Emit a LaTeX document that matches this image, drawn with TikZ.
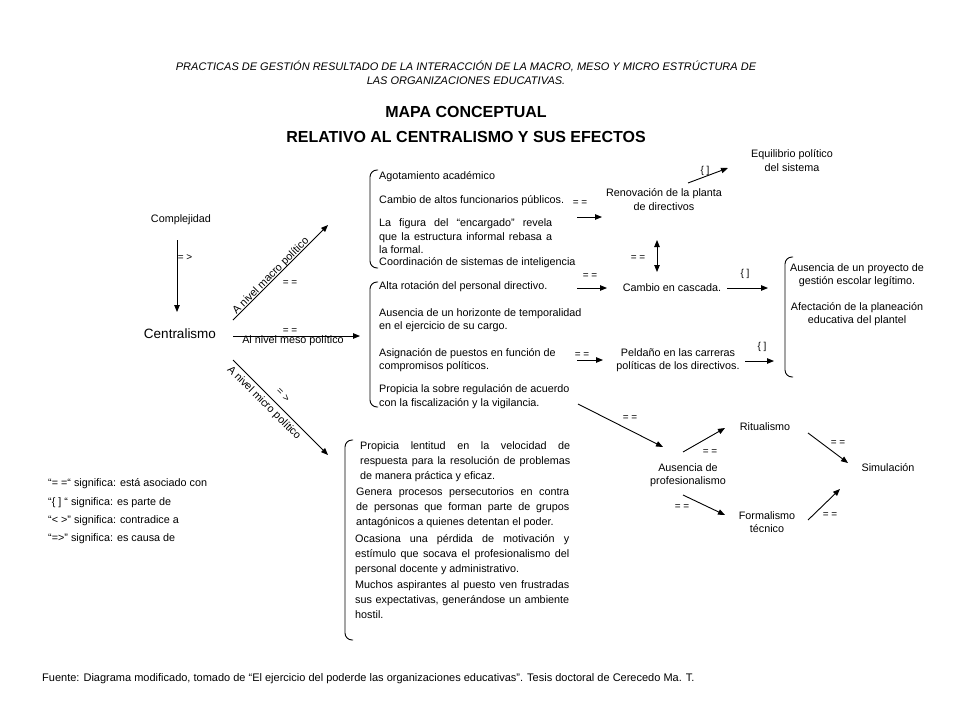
\documentclass[tikz,border=0pt]{standalone}
\usepackage{fontspec}
\setmainfont{Liberation Sans}
\usetikzlibrary{arrows.meta}

\tikzset{
  txt/.style={inner sep=0pt, font=\fontsize{10.8}{13.5}\selectfont, align=center},
  izq/.style={txt, anchor=west, align=left},
  parr/.style={txt, anchor=west, text width=#1, align=justify},
  micro/.style={parr=#1, font=\fontsize{10.8}{15}\selectfont},
  rel/.style={inner sep=0pt, font=\fontsize{10}{11}\selectfont},
  flecha/.style={-{Triangle[length=7pt,width=5.5pt]}, line width=0.9pt},
  llave/.style={line width=0.9pt, rounded corners=7pt}
}

\begin{document}
\begin{tikzpicture}[x=1pt,y=-1pt]
  \useasboundingbox (0,0) rectangle (960,720);

  % titulos
  \node[txt, font=\fontsize{11}{14}\selectfont\itshape] (titulo) at (466,73)
    {PRACTICAS DE GESTIÓN RESULTADO DE LA INTERACCIÓN DE LA MACRO, MESO Y MICRO ESTRÚCTURA DE\\
     LAS ORGANIZACIONES EDUCATIVAS.};
  \node[txt, font=\fontsize{16}{18}\selectfont\bfseries] (mapa) at (466,112) {MAPA CONCEPTUAL};
  \node[txt, font=\fontsize{16}{18}\selectfont\bfseries] (relativo) at (466,137) {RELATIVO AL CENTRALISMO Y SUS EFECTOS};

  % centralismo y niveles
  \node[txt] (complejidad) at (181,220) {Complejidad};
  \node[txt, font=\fontsize{13.5}{15}\selectfont] (centralismo) at (180,334) {Centralismo};
  \node[txt, rotate=45] (macro) at (271,276) {A nivel macro político};
  \node[txt] (meso) at (293,341) {Al nivel meso político};
  \node[txt, rotate=-45] (micro) at (264,403) {A nivel micro político};

  % nivel macro
  \begin{scope}[every node/.style={izq}]
    \node (agotamiento) at (379,177) {Agotamiento académico};
    \node (altos) at (379,201) {Cambio de altos funcionarios públicos.};
    \node[parr=173] (figura) at (379,236.5) {La figura del “encargado” revela\linebreak
      que la estructura informal rebasa a\linebreak la formal.};
    \node (coordinacion) at (379,263) {Coordinación de sistemas de inteligencia};
  \end{scope}

  % nivel meso
  \begin{scope}[every node/.style={izq}]
    \node (rotacion) at (379,287) {Alta rotación del personal directivo.};
    \node (horizonte) at (379,320) {Ausencia de un horizonte de temporalidad\\en el ejercicio de su cargo.};
    \node (asignacion) at (379,360) {Asignación de puestos en función de\\compromisos políticos.};
    \node (regulacion) at (379,396.5) {Propicia la sobre regulación de acuerdo\\con la fiscalización y la vigilancia.};
  \end{scope}

  % efectos
  \node[txt] (renovacion) at (664,199.5) {Renovación de la planta\\de directivos};
  \node[txt] (equilibrio) at (792,160.5) {Equilibrio político\\del sistema};
  \node[txt] (cascada) at (672,288) {Cambio en cascada.};
  \node[txt] (peldano) at (678,360) {Peldaño en las carreras\\políticas de los directivos.};
  \node[txt] (proyecto) at (857,275) {Ausencia de un proyecto de\\gestión escolar legítimo.};
  \node[txt] (afectacion) at (857,314) {Afectación de la planeación\\educativa del plantel};

  % nivel micro
  \node[micro=210] (lentitud) at (360,461.5) {Propicia lentitud en la velocidad de\linebreak
    respuesta para la resolución de problemas\linebreak de manera práctica y eficaz.};
  \node[micro=213] (persecucion) at (356,508) {Genera procesos persecutorios en contra\linebreak
    de personas que forman parte de grupos\linebreak antagónicos a quienes detentan el poder.};
  \node[micro=214] (motivacion) at (355,555) {Ocasiona una pérdida de motivación y\linebreak
    estímulo que socava el profesionalismo del\linebreak personal docente y administrativo.};
  \node[micro=214] (aspirantes) at (355,600) {Muchos aspirantes al puesto ven frustradas\linebreak
    sus expectativas, generándose un ambiente\linebreak hostil.};

  \node[txt] (ausencia) at (688,475) {Ausencia de\\profesionalismo};
  \node[txt] (ritualismo) at (765,427) {Ritualismo};
  \node[txt] (formalismo) at (767,522) {Formalismo\\técnico};
  \node[txt] (simulacion) at (888,468) {Simulación};

  % llaves
  \draw[llave] (378,170) -- (370,170) -- (370,268) -- (378,268);
  \draw[llave] (378,282) -- (370,282) -- (370,407) -- (378,407);
  \draw[llave] (793,257) -- (785,257) -- (785,377) -- (793,377);
  \draw[llave] (353,440) -- (345,440) -- (345,640) -- (353,640);

  % extremos de las flechas
  \coordinate (cA) at (177,240);   \coordinate (cB) at (177,312);
  \coordinate (mA) at (233,320);   \coordinate (mB) at (328,225);
  \coordinate (eA) at (233,336);   \coordinate (eB) at (360,336);
  \coordinate (iA) at (233,360);   \coordinate (iB) at (328,455);
  \coordinate (r1) at (577,217);   \coordinate (r2) at (602,217);
  \coordinate (q1) at (688,183);   \coordinate (q2) at (728,168);
  \coordinate (d1) at (657,240);   \coordinate (d2) at (657,272);
  \coordinate (k1) at (577,288);   \coordinate (k2) at (607,288);
  \coordinate (k3) at (727,288);   \coordinate (k4) at (768,288);
  \coordinate (p1) at (577,360);   \coordinate (p2) at (603,360);
  \coordinate (p3) at (745,361);   \coordinate (p4) at (774,361);
  \coordinate (s1) at (578,404);   \coordinate (s2) at (663,447);
  \coordinate (s3) at (683,452);   \coordinate (s4) at (725,428);
  \coordinate (s5) at (683,495);   \coordinate (s6) at (725,515);
  \coordinate (s7) at (808,433);   \coordinate (s8) at (848,463);
  \coordinate (s9) at (808,520);   \coordinate (s10) at (840,489);

  \begin{scope}[every edge/.style={draw, flecha}]
    \path (cA) edge (cB);
    \path (mA) edge (mB);
    \path (eA) edge (eB);
    \path (iA) edge (iB);
    \path (r1) edge (r2);
    \path (q1) edge (q2);
    \path (d1) edge[{Triangle[length=7pt,width=5.5pt]}-{Triangle[length=7pt,width=5.5pt]}] (d2);
    \path (k1) edge (k2);
    \path (k3) edge (k4);
    \path (p1) edge (p2);
    \path (p3) edge (p4);
    \path (s1) edge (s2);
    \path (s3) edge (s4);
    \path (s5) edge (s6);
    \path (s7) edge (s8);
    \path (s9) edge (s10);
  \end{scope}

  % relaciones
  \begin{scope}[every node/.style={rel}]
    \node (rc) at (185,258) {= >};
    \node (rm) at (290,283) {= =};
    \node (re) at (290,331) {= =};
    \node[rotate=-45] (ri) at (283,395) {= >};
    \node (rr) at (580,203) {= =};
    \node (rq) at (705,171) {\{ ]};
    \node (rd) at (638,258) {= =};
    \node (rk) at (590,276) {= =};
    \node (rk2) at (745,274) {\{ ]};
    \node (rp) at (582,355) {= =};
    \node (rp2) at (762,347) {\{ ]};
    \node (rs1) at (630,418) {= =};
    \node (rs2) at (710,452) {= =};
    \node (rs3) at (682,507) {= =};
    \node (rs4) at (838,443) {= =};
    \node (rs5) at (830,515) {= =};
  \end{scope}

  % simbologia
  \begin{scope}[every node/.style={izq}]
    \node (ley1) at (48,484) {“= =“ significa: está asociado con};
    \node (ley2) at (48,503) {“\{ ] “ significa: es parte de};
    \node (ley3) at (48,521) {“< >” significa: contradice a};
    \node (ley4) at (48,539) {“=>” significa: es causa de};
  \end{scope}

  \node[izq, font=\fontsize{11}{13}\selectfont] (fuente) at (42,679) {Fuente: Diagrama modificado, tomado de “El ejercicio del poderde las organizaciones educativas”. Tesis doctoral de Cerecedo Ma. T.};
\end{tikzpicture}
\end{document}
